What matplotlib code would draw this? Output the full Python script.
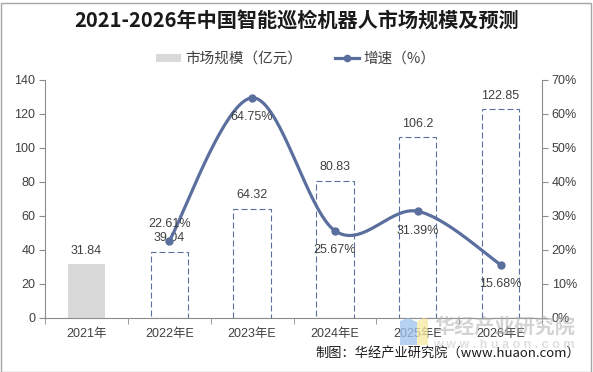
import numpy as np
import matplotlib
matplotlib.use("Agg")
import matplotlib.pyplot as plt
from matplotlib.patches import Polygon, Rectangle
from matplotlib.lines import Line2D
from matplotlib.patches import Patch

plt.rcParams['font.family'] = ['Liberation Sans', 'Noto Sans CJK SC', 'DejaVu Sans']

categories = ['2021年', '2022年E', '2023年E', '2024年E', '2025年E', '2026年E']
market_size = [31.84, 39.04, 64.32, 80.83, 106.2, 122.85]
growth = [22.61, 64.75, 25.67, 31.39, 15.68]  # % for 2022E..2026E
growth_labels = ['22.61%', '64.75%', '25.67%', '31.39%', '15.68%']
size_labels = ['31.84', '39.04', '64.32', '80.83', '106.2', '122.85']
left_ticks = [0, 20, 40, 60, 80, 100, 120, 140]
right_ticks = [0, 10, 20, 30, 40, 50, 60, 70]

W, H = 593, 372
fig = plt.figure(figsize=(W / 100, H / 100), dpi=100)
fig.patch.set_facecolor('white')

def fx(px):
    return px / W

def fy(py):
    return 1 - py / H

ax = fig.add_axes([fx(45), fy(318), fx(542) - fx(45), fy(80) - fy(318)])
ax2 = ax.twinx()

line_color = '#5b6f9e'
axis_color = '#8c8c8c'
text_color = '#404040'

x = np.arange(len(categories))
bw = 0.45
for i, v in enumerate(market_size):
    if i == 0:
        ax.bar(x[i], v, width=bw, color='#d9d9d9', edgecolor='none', zorder=2)
    else:
        ax.bar(x[i], v, width=bw, facecolor='white', edgecolor=line_color,
               linewidth=0.8, linestyle=(0, (5.4, 2.7)), zorder=2)
    ax.annotate(size_labels[i], (x[i], v), xytext=(0, 9.5), textcoords='offset points',
                ha='center', va='center', fontsize=9, color=text_color)

ax.set_xlim(-0.5, 5.5)
ax.set_ylim(0, 140)
ax.set_yticks(left_ticks)
ax.set_yticklabels([str(t) for t in left_ticks], fontsize=9, color=text_color)
ax.set_xticks(x)
ax.set_xticklabels(categories, fontsize=9, color=text_color)
ax.set_xticks(np.arange(-0.5, 5.6, 1.0), minor=True)
ax.tick_params(axis='x', which='major', length=0, pad=7)
ax.tick_params(axis='x', which='minor', length=4, color=axis_color, direction='out')
ax.tick_params(axis='y', length=4, color=axis_color, direction='out', pad=3)
for s in ['top', 'right']:
    ax.spines[s].set_visible(False)
for s in ['left', 'bottom']:
    ax.spines[s].set_color(axis_color)
    ax.spines[s].set_linewidth(0.8)

# smooth curve (Catmull-Rom in pixel-proportional space)
gx = x[1:].astype(float)
gy = np.array(growth, dtype=float)
sx, sy = 82.8, 238 / 70.0
P = np.column_stack([gx * sx, gy * sy])
n = len(P)
pts = []
for i in range(n - 1):
    p0 = P[i - 1] if i > 0 else P[i]
    p1 = P[i]
    p2 = P[i + 1]
    p3 = P[i + 2] if i + 2 < n else P[i + 1]
    c1 = p1 + (p2 - p0) / 6.0
    c2 = p2 - (p3 - p1) / 6.0
    t = np.linspace(0, 1, 40)[:, None]
    seg = (1 - t) ** 3 * p1 + 3 * (1 - t) ** 2 * t * c1 + 3 * (1 - t) * t ** 2 * c2 + t ** 3 * p2
    pts.append(seg if i == 0 else seg[1:])
curve = np.vstack(pts)
ax2.plot(curve[:, 0] / sx, curve[:, 1] / sy, color=line_color, linewidth=2.3,
         solid_capstyle='round', zorder=3)
ax2.plot(gx, gy, linestyle='none', marker='o', markersize=5, color=line_color, zorder=4)

offsets = [12, -14, -14, -14, -14]
for xi, yi, lab, off in zip(gx, gy, growth_labels, offsets):
    ax2.annotate(lab, (xi, yi), xytext=(0, off), textcoords='offset points',
                 ha='center', va='center', fontsize=9, color=text_color)

ax2.set_ylim(0, 70)
ax2.set_yticks(right_ticks)
ax2.set_yticklabels([f'{t}%' for t in right_ticks], fontsize=9, color=text_color)
ax2.tick_params(axis='y', length=4, color=axis_color, direction='out', pad=3)
for s in ['top', 'left', 'bottom']:
    ax2.spines[s].set_visible(False)
ax2.spines['right'].set_color(axis_color)
ax2.spines['right'].set_linewidth(0.8)
ax2.set_xlim(-0.5, 5.5)

# title
fig.text(0.5, fy(21), '2021-2026年中国智能巡检机器人市场规模及预测', ha='center', va='center',
         fontsize=14.5, fontweight='bold', color='#1a1a1a',
         family=['Noto Sans CJK SC', 'DejaVu Sans'])

# legend
handles = [Patch(facecolor='#d9d9d9', edgecolor='none'),
           Line2D([0], [0], color=line_color, linewidth=2.3, marker='o', markersize=4.5)]
fig.legend(handles, ['市场规模（亿元）', '增速（%）'], loc='center', bbox_to_anchor=(fx(296), fy(59)),
           ncol=2, frameon=False, prop={'family': ['Noto Sans CJK SC', 'DejaVu Sans'], 'size': 10.5},
           handlelength=1.7, handleheight=0.5, handletextpad=0.3, columnspacing=2.2, labelcolor='#404040')

# watermark logo and text
fig.add_artist(Polygon([(fx(400), fy(321)), (fx(408), fy(318)), (fx(417), fy(322)),
                        (fx(417), fy(345)), (fx(400), fy(345))], closed=True,
                       transform=fig.transFigure, facecolor='#9ec3f0', edgecolor='none', alpha=0.75, zorder=10))
fig.add_artist(Polygon([(fx(417), fy(322)), (fx(423), fy(318)), (fx(428), fy(319)),
                        (fx(428), fy(345)), (fx(417), fy(345))], closed=True,
                       transform=fig.transFigure, facecolor='#f7e7a0', edgecolor='none', alpha=0.75, zorder=10))
fig.text(fx(505), fy(326), '华经产业研究院', ha='center', va='center', fontsize=14.5, fontweight='bold',
         color='#b0b0b0', alpha=0.55, family=['Noto Sans CJK SC', 'DejaVu Sans'], zorder=11)
fig.text(fx(504), fy(345), 'w w w . h u a o n . c o m', ha='center', va='center', fontsize=9, fontweight='bold',
         color='#c0c0c0', alpha=0.5, zorder=11)

# source
fig.text(fx(580), fy(353), '制图：华经产业研究院（www.huaon.com）', ha='right', va='center',
         fontsize=9.5, color='#1a1a1a', family=['Noto Sans CJK SC', 'DejaVu Sans'])

# frame
fig.add_artist(Rectangle((0.5 / W, 0.5 / H), 1 - 2.5 / W, 1 - 3.5 / H, transform=fig.transFigure,
                         fill=False, edgecolor='#a6a6a6', linewidth=1.0))

fig.savefig('out.png', dpi=100, facecolor='white')
